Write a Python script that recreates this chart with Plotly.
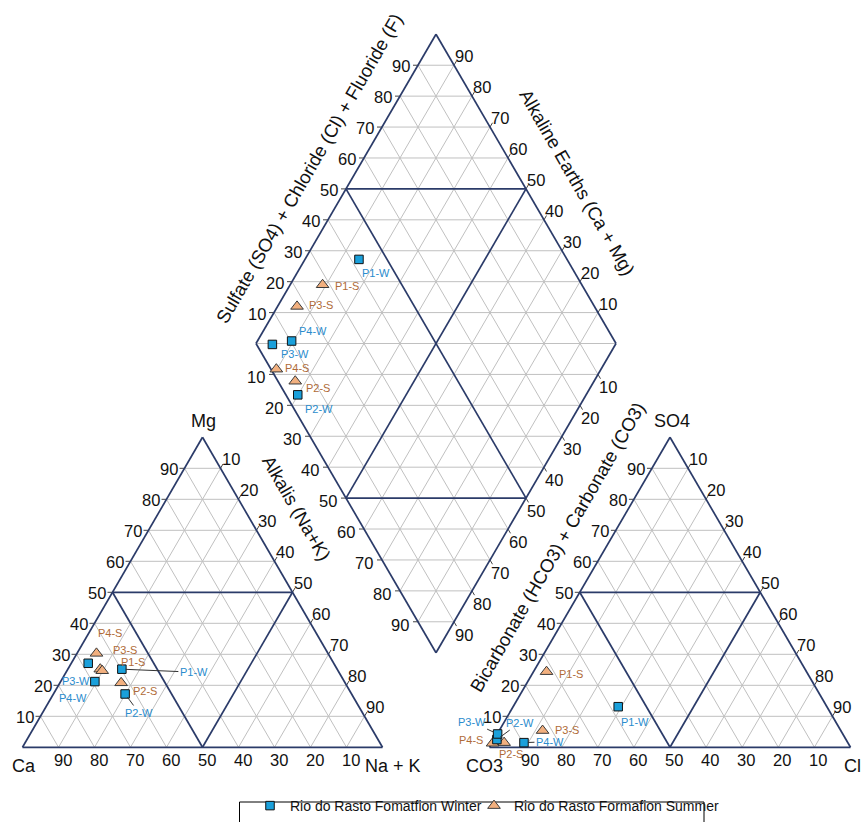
import plotly.graph_objects as go

# ---------------- data (% of meq/L) ----------------
samples = ["P1", "P2", "P3", "P4"]

# Rio do Rasto Fomatfion Winter
winter_ca = [59.8, 62.9, 68.2, 69.3]
winter_mg = [25.2, 17.2, 27.1, 21.2]
winter_nak = [15.0, 19.9, 4.7, 9.5]
winter_hco3_co3 = [57.8, 96.7, 95.6, 89.7]
winter_so4 = [13.1, 2.5, 4.3, 1.5]
winter_cl = [29.1, 0.8, 0.1, 8.8]

# Rio do Rasto Formafion Summer
summer_ca = [65.8, 62.2, 64.3, 65.5]
summer_mg = [25.2, 20.8, 30.3, 24.7]
summer_nak = [9.0, 17.0, 5.4, 9.8]
summer_hco3_co3 = [72.0, 95.2, 82.6, 98.5]
summer_so4 = [24.4, 1.5, 5.4, 1.3]
summer_cl = [3.6, 3.3, 12.0, 0.2]

tick_values = [10, 20, 30, 40, 50, 60, 70, 80, 90]

# ---------------- geometry (pixel frame) ----------------
LT = (22.5, 382.5, 747.3, 437.3)   # cation triangle: x0, x1, base y, apex y
RT = (489.5, 850.5, 747.3, 437.3)  # anion triangle
DL, DR, DT, DB = (256.0, 343.5), (616.0, 343.5), (436.0, 34.3), (436.0, 652.7)

FONT = "Arial, Liberation Sans, sans-serif"
DARK = "#2b3b69"
GRID = "#c0c0c0"
TICK = "#444444"
BLUE_TXT = "#2a8ccd"
BROWN_TXT = "#b06b38"


def tri(t, r, u):
    x0, x1, base, apex = t
    return (x0 + (x1 - x0) * (r + u / 2.0), base - (base - apex) * u)


def dia(a, b):
    return (DL[0] + a * (DB[0] - DL[0]) + b * (DT[0] - DL[0]),
            DL[1] + a * (DB[1] - DL[1]) + b * (DT[1] - DL[1]))


def seg_trace(segs, color, width):
    xs, ys = [], []
    for p, q in segs:
        xs += [p[0], q[0], None]
        ys += [p[1], q[1], None]
    return go.Scatter(x=xs, y=ys, mode="lines", line=dict(color=color, width=width),
                      hoverinfo="skip", showlegend=False)


grid, dark, ticks = [], [], []
for t in (LT, RT):
    for k in range(1, 10):
        v = k / 10
        segs = [(tri(t, 0, v), tri(t, 1 - v, v)),
                (tri(t, v, 0), tri(t, v, 1 - v)),
                (tri(t, 1 - v, 0), tri(t, 0, 1 - v))]
        (dark if k == 5 else grid).extend(segs)
        p = tri(t, 0, v)
        ticks.append((p, (p[0] - 5, p[1])))
        p = tri(t, v, 1 - v)
        ticks.append((p, (p[0] + 2.5, p[1] - 4.3)))
    a, b, c = tri(t, 0, 0), tri(t, 1, 0), tri(t, 0, 1)
    dark += [(a, b), (b, c), (c, a)]

for k in range(1, 10):
    v = k / 10
    segs = [(dia(v, 0), dia(v, 1)), (dia(0, v), dia(1, v))]
    (dark if k == 5 else grid).extend(segs)
    p = dia(0, v)
    ticks.append((p, (p[0] - 5, p[1])))
    p = dia(v, 0)
    ticks.append((p, (p[0] - 5, p[1])))
    p = dia(1 - v, 1)
    ticks.append((p, (p[0] + 2.5, p[1] - 4.3)))
    p = dia(1, 1 - v)
    ticks.append((p, (p[0] + 2.5, p[1] + 4.3)))
for k in range(-9, 10):
    d = k / 10
    seg = (dia(0, -d), dia(1 + d, 1)) if d < 0 else (dia(d, 0), dia(1, 1 - d))
    (dark if abs(k) == 5 else grid).append(seg)
dark += [(DL, DT), (DT, DR), (DR, DB), (DB, DL)]

fig = go.Figure()
fig.add_trace(seg_trace(grid, GRID, 1))
fig.add_trace(seg_trace(ticks, TICK, 1))
fig.add_trace(seg_trace(dark, DARK, 1.7))


# ---------------- sample positions ----------------
def positions(ca, mg, nak, hco3, so4, cl):
    cat, an, dm = [], [], []
    for i in range(len(ca)):
        sc = ca[i] + mg[i] + nak[i]
        sa = hco3[i] + so4[i] + cl[i]
        r_c, u_c = nak[i] / sc, mg[i] / sc
        r_a, u_a = cl[i] / sa, so4[i] / sa
        cat.append(tri(LT, r_c, u_c))
        an.append(tri(RT, r_a, u_a))
        dm.append(dia(r_c, r_a + u_a))
    return cat, an, dm


w_pos = positions(winter_ca, winter_mg, winter_nak, winter_hco3_co3, winter_so4, winter_cl)
s_pos = positions(summer_ca, summer_mg, summer_nak, summer_hco3_co3, summer_so4, summer_cl)

square = dict(symbol="square", size=8.5, color="#1aa0db", line=dict(color="#111111", width=1))
triangle = dict(symbol="triangle-up", size=11, color="#f2b07f", line=dict(color="#3a3a3a", width=1))

for pos, mk, name in ((s_pos, triangle, "Rio do Rasto Formafion Summer"),
                      (w_pos, square, "Rio do Rasto Fomatfion Winter")):
    xs, ys = [], []
    for part in pos:
        xs += [p[0] for p in part]
        ys += [p[1] for p in part]
    fig.add_trace(go.Scatter(x=xs, y=ys, mode="markers", marker=mk, name=name,
                             hoverinfo="skip", showlegend=False))

# legend-only traces (Winter in legend, Summer in legend2)
fig.add_trace(go.Scatter(x=[None], y=[None], mode="markers", marker=square,
                         name="Rio do Rasto Fomatfion Winter", legend="legend"))
fig.add_trace(go.Scatter(x=[None], y=[None], mode="markers", marker=triangle,
                         name="Rio do Rasto Formafion Summer", legend="legend2"))

# ---------------- sample labels: (dx, dy, leader) per panel ----------------
label_offsets = {
    "cat": {"P1-W": (72, 3, True), "P2-W": (14, 19, True), "P3-W": (-12, 18, False),
            "P4-W": (-22, 16, False), "P1-S": (33, -7, False), "P2-S": (24, 8, False),
            "P3-S": (29, -3, False), "P4-S": (8, -38, False)},
    "an": {"P1-W": (17, 15, False), "P2-W": (23, -17, True), "P3-W": (-26, -12, True),
           "P4-W": (26, -1, True), "P1-S": (24, 2, False), "P2-S": (7, 11, False),
           "P3-S": (24, -1, False), "P4-S": (-22, -3, False)},
    "dia": {"P1-W": (17, 14, False), "P2-W": (21, 14, False), "P3-W": (23, 10, False),
            "P4-W": (21, -10, False), "P1-S": (24, 1, False), "P2-S": (23, 7, False),
            "P3-S": (24, -1, False), "P4-S": (21, -1, False)},
}

ann = []
for pos, suffix, color in ((w_pos, "-W", BLUE_TXT), (s_pos, "-S", BROWN_TXT)):
    for panel, part in zip(("cat", "an", "dia"), pos):
        for i, s in enumerate(samples):
            lab = s + suffix
            dx, dy, lead = label_offsets[panel][lab]
            base = dict(x=part[i][0], y=part[i][1], xref="x", yref="y", text=lab,
                        font=dict(family=FONT, size=11, color=color))
            if lead:
                base.update(showarrow=True, ax=dx, ay=dy, arrowhead=0, arrowwidth=1,
                            arrowcolor="#333333", standoff=4)
            else:
                base.update(showarrow=False, xshift=dx, yshift=-dy)
            ann.append(base)


# ---------------- tick labels ----------------
def txt(x, y, s, size=16.5, angle=0, **kw):
    d = dict(x=x, y=y, xref="x", yref="y", text=s, showarrow=False, textangle=angle,
             font=dict(family=FONT, size=size, color="#111111"))
    d.update(kw)
    return d


for v in tick_values:
    f = v / 100
    for t in (LT, RT):
        p = tri(t, 0, f)
        ann.append(txt(p[0] - 16, p[1] + 1, str(v)))
        p = tri(t, f, 1 - f)
        ann.append(txt(p[0] + 10, p[1] - 9, str(v)))
        p = tri(t, 1 - f, 0)
        ann.append(txt(p[0] + 4, p[1] + 13, str(v)))
    p = dia(0, f)
    ann.append(txt(p[0] - 17, p[1] + 1, str(v)))
    p = dia(f, 0)
    ann.append(txt(p[0] - 18, p[1] + 3, str(v)))
    p = dia(1 - f, 1)
    ann.append(txt(p[0] + 10, p[1] - 9, str(v)))
    p = dia(1, 1 - f)
    ann.append(txt(p[0] + 10, p[1] + 13, str(v)))

# corner labels
for (s, x, y) in (("Mg", 203.5, 421), ("Ca", 24, 766), ("Na + K", 393, 766),
                  ("SO4", 672, 421), ("CO3", 484, 766), ("Cl", 852, 766)):
    ann.append(txt(x, y, s, size=18))

# axis titles
ann.append(txt(309, 168, "Sulfate (SO4) + Chloride (Cl) + Fluoride (F)", size=18.5, angle=-60))
ann.append(txt(577.5, 182, "Alkaline Earths (Ca + Mg)", size=18.5, angle=60))
ann.append(txt(297, 508, "Alkalis (Na+K)", size=18.5, angle=60))
ann.append(txt(557, 547, "Bicarbonate (HCO3) + Carbonate (CO3)", size=18.5, angle=-60))

legend_font = dict(family=FONT, size=14, color="#111111")
fig.update_layout(
    width=864, height=822,
    margin=dict(l=0, r=0, t=0, b=0),
    paper_bgcolor="white", plot_bgcolor="white",
    xaxis=dict(range=[0, 864], visible=False, fixedrange=True),
    yaxis=dict(range=[822, 0], visible=False, fixedrange=True),
    annotations=ann,
    shapes=[dict(type="rect", xref="x", yref="y", x0=239.5, x1=704, y0=802, y1=840,
                 line=dict(color="#000000", width=1), fillcolor="rgba(0,0,0,0)", layer="above")],
    showlegend=True,
    legend=dict(orientation="h", x=250 / 864, y=0, xanchor="left", yanchor="bottom",
                borderwidth=0, bgcolor="rgba(0,0,0,0)", font=legend_font),
    legend2=dict(orientation="h", x=474 / 864, y=0, xanchor="left", yanchor="bottom",
                 borderwidth=0, bgcolor="rgba(0,0,0,0)", font=legend_font),
)

fig.write_html("out.html", config={"displayModeBar": False},
               post_script="document.body.style.margin='0';document.body.style.overflow='hidden';")
